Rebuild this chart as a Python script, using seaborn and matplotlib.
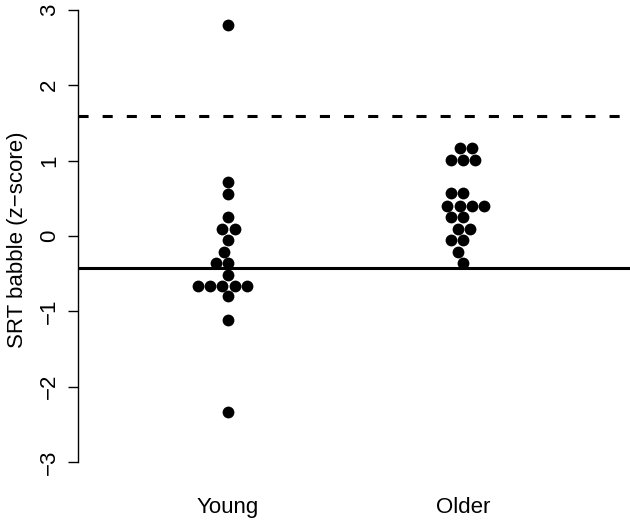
#!/usr/bin/env python
import pandas as pd
import seaborn as sns
from matplotlib import pyplot as plt

# values (z-scores)
young = [2.80, 0.71, 0.55, 0.25, 0.09, 0.09, -0.05, -0.21, -0.36, -0.36,
         -0.52, -0.66, -0.66, -0.66, -0.66, -0.66, -0.80, -1.12, -2.34]
older = [1.16, 1.16, 1.01, 1.01, 1.01, 0.57, 0.57, 0.40, 0.40, 0.40, 0.40,
         0.25, 0.25, 0.09, 0.09, -0.05, -0.05, -0.22, -0.36]
groups = ["Young", "Older"]
solid_ref = -0.42
dashed_ref = 1.59
yticks = [-3, -2, -1, 0, 1, 2, 3]

df = pd.DataFrame({
    "group": ["Young"] * len(young) + ["Older"] * len(older),
    "z": young + older,
})

sns.set_theme(style="white", rc={"text.color": "black",
                                 "axes.labelcolor": "black",
                                 "xtick.color": "black",
                                 "ytick.color": "black"})
plt.rcParams["font.family"] = ["Liberation Sans", "DejaVu Sans"]

fig = plt.figure(figsize=(6.3, 5.23), dpi=100)
ax = fig.add_axes([78 / 630, (523 - 480) / 523, 1 - 78 / 630, 480 / 523])

sns.swarmplot(data=df, x="group", y="z", order=groups, color="black",
              size=8.5, ax=ax, zorder=3)

ax.axhline(solid_ref, color="black", lw=2.2, zorder=2)
ax.axhline(dashed_ref, color="black", lw=2.2, dashes=(3.3, 4.6), zorder=2)

ax.set_xlim(-0.638, 1.71)
ax.set_ylim(-3.24, 3.13)
ax.set_yticks(yticks)
ax.set_yticklabels([str(t).replace("-", "\u2212") for t in yticks],
                   rotation=90, va="center", fontsize=16)
ax.tick_params(axis="y", left=True, length=7, width=1, color="black", pad=6)
ax.tick_params(axis="x", bottom=False, length=0, labelsize=16, pad=12)
ax.set_xlabel("")
ax.set_ylabel("SRT babble (z\u2212score)", fontsize=16, labelpad=8)

for s in ["top", "right", "bottom"]:
    ax.spines[s].set_visible(False)
ax.spines["left"].set_color("black")
ax.spines["left"].set_linewidth(1)
ax.spines["left"].set_bounds(-3, 3)
ax.grid(False)

fig.savefig("out.png", dpi=100)
